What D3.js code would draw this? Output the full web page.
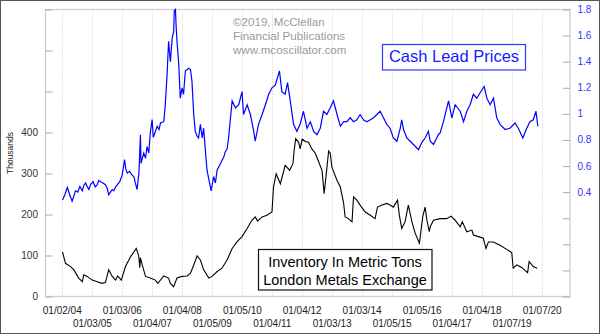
<!DOCTYPE html>
<html>
<head>
<meta charset="utf-8">
<script src="https://cdn.jsdelivr.net/npm/d3@7"></script>
<style>
  html, body { margin: 0; padding: 0; background: #fff; }
  svg { display: block; }
  text { font-family: Arial, "Liberation Sans", sans-serif; }
</style>
</head>
<body>
<svg id="chart" width="600" height="334"></svg>
<script>
// ---------- DATA ----------
const xTickLabels = ["01/02/04","01/03/05","01/03/06","01/04/07","01/04/08","01/05/09","01/05/10","01/04/11",
  "01/04/12","01/03/13","01/03/14","01/05/15","01/05/16","01/04/17","01/04/18","01/07/19","01/07/20"];
const leftTicks = [0,100,200,300,400,500,600,700];
const leftTickLabels = ["0","100","200","300","400","","",""];
const rightTicks = [-0.4,-0.2,0,0.2,0.4,0.6,0.8,1,1.2,1.4,1.6,1.8];
const rightTickLabels = ["","","","","0.4","0.6","0.8","1","1.2","1.4","1.6","1.8"];

// Cash lead price (right axis), time as decimal year
const leadYears = [2004.01,2004.09,2004.17,2004.25,2004.33,2004.39,2004.44,2004.52,2004.59,2004.67,2004.72,2004.78,2004.84,2004.89,2004.95,2005.03,
  2005.10,2005.17,2005.22,2005.28,2005.36,2005.44,2005.50,2005.55,2005.61,2005.67,2005.72,2005.78,2005.85,2005.92,2006.00,2006.08,2006.12,2006.17,2006.25,
  2006.33,2006.39,2006.44,2006.50,2006.56,2006.61,2006.63,2006.72,2006.78,2006.83,2006.89,2006.94,2007.00,2007.04,2007.11,2007.17,2007.23,2007.28,
  2007.39,2007.44,2007.50,2007.55,2007.61,2007.67,2007.72,2007.74,2007.78,2007.80,2007.83,2007.89,2007.94,2008.00,2008.05,2008.11,2008.17,2008.22,
  2008.28,2008.33,2008.39,2008.44,2008.50,2008.55,2008.61,2008.67,2008.72,2008.78,2008.83,2008.89,2008.97,2009.05,2009.11,2009.17,2009.28,2009.39,
  2009.44,2009.50,2009.55,2009.67,2009.78,2009.89,2010.00,2010.05,2010.17,2010.28,2010.39,2010.44,2010.55,2010.67,2010.78,2010.89,2011.00,2011.11,
  2011.25,2011.33,2011.44,2011.52,2011.61,2011.72,2011.83,2011.94,2012.05,2012.17,2012.28,2012.39,2012.50,2012.61,2012.72,2012.83,2012.94,2013.05,
  2013.17,2013.28,2013.39,2013.50,2013.61,2013.72,2013.83,2013.94,2014.05,2014.17,2014.28,2014.39,2014.50,2014.61,2014.72,2014.83,2014.94,2015.05,
  2015.17,2015.28,2015.33,2015.39,2015.50,2015.61,2015.72,2015.89,2016.00,2016.11,2016.22,2016.28,2016.39,2016.55,2016.61,2016.72,2016.89,2017.00,
  2017.11,2017.28,2017.39,2017.50,2017.61,2017.72,2017.83,2017.94,2018.08,2018.17,2018.28,2018.39,2018.50,2018.61,2018.78,2018.94,2019.11,2019.22,
  2019.37,2019.50,2019.61,2019.72,2019.81,2019.87];
const leadPrices = [0.34,0.38,0.436,0.38,0.33,0.37,0.41,0.40,0.444,0.41,0.45,0.47,0.44,0.42,0.46,0.48,
  0.44,0.457,0.49,0.48,0.47,0.457,0.43,0.38,0.40,0.42,0.41,0.44,0.46,0.48,0.53,0.65,0.58,0.547,0.56,
  0.53,0.52,0.47,0.42,0.55,0.84,0.62,0.70,0.66,0.75,0.70,0.855,0.956,0.82,0.866,0.905,0.88,0.93,
  0.94,1.07,1.30,1.557,1.40,1.58,1.63,1.79,1.80,1.68,1.56,1.38,1.12,1.20,1.15,1.33,1.34,1.35,
  1.34,1.25,0.99,0.866,0.83,0.815,0.92,0.815,0.89,0.71,0.57,0.50,0.41,0.52,0.47,0.57,0.62,0.67,
  0.71,0.73,0.815,1.10,1.045,1.07,1.17,0.995,1.07,0.995,0.866,0.79,0.92,0.995,1.07,1.15,1.20,1.22,
  1.33,1.17,1.15,1.24,1.10,0.92,0.866,0.92,1.02,0.89,0.94,0.866,0.84,0.89,1.02,0.995,1.045,1.10,
  0.995,0.905,0.94,0.94,0.97,0.94,0.955,0.995,0.955,0.94,0.955,0.97,0.995,1.02,0.97,0.92,0.89,0.815,
  0.79,0.89,0.955,0.88,0.815,0.79,0.765,0.726,0.78,0.815,0.866,0.79,0.765,0.84,0.853,0.94,1.10,0.97,
  1.07,1.02,0.94,1.02,1.07,1.15,1.12,1.16,1.21,1.12,1.07,1.12,0.97,0.92,0.88,0.89,0.93,0.89,
  0.815,0.89,0.94,0.955,1.02,0.905];

// LME lead inventory (left axis, thousands of metric tons)
const invYears = [2004.01,2004.11,2004.28,2004.39,2004.55,2004.67,2004.72,2004.83,2005.00,2005.17,2005.33,2005.44,2005.55,2005.67,2005.78,2005.85,
  2005.97,2006.11,2006.28,2006.47,2006.55,2006.59,2006.61,2006.67,2006.78,2006.94,2007.11,2007.19,2007.39,2007.55,2007.61,2007.72,2007.83,2008.00,
  2008.17,2008.28,2008.39,2008.50,2008.61,2008.72,2008.89,2009.00,2009.17,2009.33,2009.50,2009.67,2009.83,2010.00,2010.17,2010.33,2010.44,2010.52,
  2010.67,2010.83,2011.00,2011.05,2011.14,2011.28,2011.44,2011.59,2011.70,2011.74,2011.79,2011.89,2011.94,2012.01,2012.11,2012.22,2012.33,2012.44,
  2012.55,2012.67,2012.74,2012.81,2012.89,2012.94,2013.00,2013.17,2013.28,2013.39,2013.44,2013.55,2013.67,2013.72,2013.83,2013.94,2014.11,2014.28,
  2014.44,2014.52,2014.67,2014.83,2014.94,2015.05,2015.19,2015.25,2015.33,2015.44,2015.55,2015.67,2015.78,2015.92,2016.03,2016.11,2016.17,2016.25,
  2016.28,2016.39,2016.61,2016.83,2016.97,2017.11,2017.28,2017.35,2017.50,2017.67,2017.72,2017.89,2018.05,2018.14,2018.22,2018.39,2018.61,2018.83,
  2019.00,2019.05,2019.17,2019.33,2019.53,2019.58,2019.72,2019.85];
const invTons = [109,81,73,65,45,36,53,49,40,36,32,34,65,49,40,50,
  40,73,97,117,100,70,95,77,49,45,40,32,50,45,32,24,45,49,
  50,57,77,99,89,65,45,49,61,69,89,117,133,146,166,186,194,184,
  194,198,206,267,299,275,320,308,324,356,385,376,360,384,378,376,360,350,
  330,307,251,299,355,350,315,283,267,227,194,190,182,243,235,223,206,198,
  190,218,223,227,223,218,235,198,166,182,223,182,154,130,194,218,186,158,
  170,186,190,190,196,186,170,182,158,162,150,146,142,117,133,133,125,115,
  107,69,77,71,58,85,73,69];

// ---------- LAYOUT ----------
const W = 600, H = 334;
const plot = { left: 45.5, right: 570, top: 9.5, bottom: 296.5 };
const svg = d3.select("#chart");

const yearToDate = y => {
  const yr = Math.floor(y);
  const start = new Date(yr, 0, 1).getTime();
  const end = new Date(yr + 1, 0, 1).getTime();
  return new Date(start + (y - yr) * (end - start));
};
const parseTick = d3.timeParse("%m/%d/%y");
const tickDates = xTickLabels.map(parseTick);

const x = d3.scaleTime()
  .domain([yearToDate(2003.443), yearToDate(2020.943)])
  .range([plot.left, plot.right]);
const yL = d3.scaleLinear().domain([0, 700]).range([plot.bottom, plot.top]);
const yR = d3.scaleLinear().domain([-0.4, 1.8]).range([plot.bottom, plot.top]);

// outer frame
svg.append("rect").attr("x", 0.5).attr("y", 0.5).attr("width", W - 1).attr("height", H - 1)
  .attr("fill", "#fff").attr("stroke", "#555").attr("stroke-width", 1);

// vertical dotted grid
svg.append("g").selectAll("line").data(tickDates).join("line")
  .attr("x1", d => Math.round(x(d)) + 0.5).attr("x2", d => Math.round(x(d)) + 0.5)
  .attr("y1", plot.top).attr("y2", plot.bottom)
  .attr("stroke", "#c8c8c8").attr("stroke-width", 1).attr("stroke-dasharray", "1,2");

// plot frame
svg.append("rect").attr("x", plot.left).attr("y", plot.top)
  .attr("width", plot.right - plot.left).attr("height", plot.bottom - plot.top)
  .attr("fill", "none").attr("stroke", "#cfcfcf").attr("stroke-width", 1.3);

// left axis (ticks inward)
const leftAxis = d3.axisRight(yL).tickValues(leftTicks).tickSize(7).tickFormat("");
const gL = svg.append("g").attr("transform", `translate(${plot.left},0)`).call(leftAxis);
gL.select(".domain").remove();
gL.selectAll(".tick line").attr("stroke", "#aaa");
svg.append("g").selectAll("text").data(leftTicks).join("text")
  .attr("x", 38).attr("y", d => yL(d) + 3.5)
  .attr("text-anchor", "end").attr("font-size", 10).attr("fill", "#333")
  .text((d, i) => leftTickLabels[i]);

// right axis (ticks inward)
const rightAxis = d3.axisLeft(yR).tickValues(rightTicks).tickSize(7).tickFormat("");
const gR = svg.append("g").attr("transform", `translate(${plot.right},0)`).call(rightAxis);
gR.select(".domain").remove();
gR.selectAll(".tick line").attr("stroke", "#aaa");
svg.append("g").selectAll("text").data(rightTicks).join("text")
  .attr("x", 577.5).attr("y", d => yR(d) + 3.5)
  .attr("text-anchor", "start").attr("font-size", 10).attr("fill", "#3333ff")
  .text((d, i) => rightTickLabels[i]);

// x labels, alternating rows
svg.append("g").selectAll("text").data(tickDates).join("text")
  .attr("x", d => x(d)).attr("y", (d, i) => i % 2 === 0 ? 314 : 326.5)
  .attr("text-anchor", "middle").attr("font-size", 10).attr("fill", "#222")
  .text((d, i) => xTickLabels[i]);

// y-axis title
svg.append("text").attr("transform", "translate(13,153) rotate(-90)")
  .attr("text-anchor", "middle").attr("font-size", 8.5).attr("fill", "#222").text("Thousands");

// copyright
const cp = ["\u00A92019, McClellan", "Financial Publications", "www.mcoscillator.com"];
svg.append("g").selectAll("text").data(cp).join("text")
  .attr("x", 233).attr("y", (d, i) => 26 + i * 14)
  .attr("font-size", 11.6).attr("fill", "#9a9a9a").text(d => d);

// lines
const leadData = leadYears.map((y, i) => ({ d: yearToDate(y), v: leadPrices[i] }));
const invData = invYears.map((y, i) => ({ d: yearToDate(y), v: invTons[i] }));

svg.append("path").datum(leadData)
  .attr("fill", "none").attr("stroke", "#0000ff").attr("stroke-width", 1.2)
  .attr("d", d3.line().x(p => x(p.d)).y(p => yR(p.v)));
svg.append("path").datum(invData)
  .attr("fill", "none").attr("stroke", "#000").attr("stroke-width", 1.1)
  .attr("d", d3.line().x(p => x(p.d)).y(p => yL(p.v)));

// "Cash Lead Prices" box
svg.append("rect").attr("x", 382.5).attr("y", 44.5).attr("width", 143).attr("height", 25.5)
  .attr("fill", "#fff").attr("stroke", "#3333ff").attr("stroke-width", 1.2);
svg.append("text").attr("x", 454).attr("y", 62).attr("text-anchor", "middle")
  .attr("font-size", 16.5).attr("fill", "#1a1aff").text("Cash Lead Prices");

// Inventory box
svg.append("rect").attr("x", 258.5).attr("y", 249.5).attr("width", 173.5).attr("height", 40.5)
  .attr("fill", "#fff").attr("stroke", "#111").attr("stroke-width", 1.2);
svg.append("text").attr("x", 345).attr("y", 266.5).attr("text-anchor", "middle")
  .attr("font-size", 14.5).attr("fill", "#000").text("Inventory In Metric Tons");
svg.append("text").attr("x", 345).attr("y", 285).attr("text-anchor", "middle")
  .attr("font-size", 14.5).attr("fill", "#000").text("London Metals Exchange");
</script>
</body>
</html>
